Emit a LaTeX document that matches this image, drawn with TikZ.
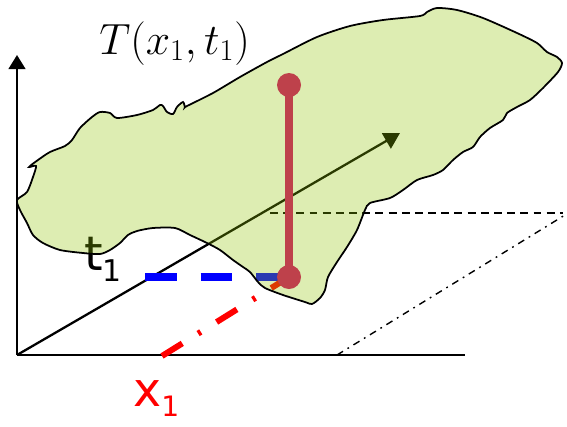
\documentclass[tikz,border=0pt]{standalone}
\usepackage{amsmath}
\usepackage{fontspec}
\newfontfamily\labelfont{DejaVu Sans}
\usetikzlibrary{arrows.meta}
\definecolor{blobgreen}{RGB}{142,195,0}
\definecolor{polered}{RGB}{190,65,75}
\definecolor{darkolive}{RGB}{45,60,0}

\begin{document}
\begin{tikzpicture}[x=0.02cm,y=-0.02cm,>=Triangle,
  axis/.style={line width=1.4pt,-{Triangle[length=8pt,width=9.5pt]}},
  blob/.style={draw=black,line width=1pt,fill=blobgreen,fill opacity=0.3},
  pole/.style={polered,line width=4.5pt},
  knob/.style={fill=polered,draw=none}]
\useasboundingbox (0,0) rectangle (567,426);

% axes
\coordinate (O) at (17,355);
\coordinate (ytop) at (17,55);
\coordinate (xend) at (465,355);
\coordinate (diag) at (400,133);
\draw[axis] (O) -- (ytop);
\draw[line width=1.4pt] (O) -- (xend);
\draw[line width=1.3pt,-{Triangle[length=9pt,width=10pt]}] (O) -- (diag);

% plane at t1
\coordinate (pl) at (270,213);
\coordinate (pr) at (563,213);
\coordinate (pb) at (337,355);
\draw[line width=0.9pt,dash pattern=on 4.5pt off 3pt] (pl) -- (pr);
\draw[line width=0.8pt,dash pattern=on 4pt off 3pt on 1pt off 3pt] (pb) -- (565,215);

% cut lines
\coordinate (top) at (289,85);
\coordinate (foot) at (289,277);
\coordinate (x1) at (162,356);
\draw[blue,line width=4pt,dash pattern=on 18pt off 13.6pt] (145,277) -- (foot);
\draw[red,line width=3.4pt,dash pattern=on 13.6pt off 10.6pt on 1.8pt off 10.6pt] (x1) -- (foot);

\node[anchor=base west,inner sep=0pt] (tlab) at (84,270)
  {\labelfont\fontsize{27}{30}\selectfont t\raisebox{-6.8pt}{\fontsize{17}{20}\selectfont 1}};
\node[anchor=base west,inner sep=0pt,red] (xlab) at (133,406)
  {\labelfont\fontsize{27}{30}\selectfont x\raisebox{-6pt}{\fontsize{16}{19}\selectfont 1}};
\node[anchor=base west,inner sep=0pt] (Tlab) at (99,54)
  {\fontsize{23.5}{28}\selectfont $T(x_1,t_1)$};

% surface
\draw[blob] plot[smooth cycle,tension=0.45] coordinates {
  (17,200) (27,192) (33,177) (36,166) (29,167) (38,160) (50,152) (65,146)
  (72,140) (80,128) (92,117) (100,112) (110,113) (117,118) (137,115)
  (153,110) (160,105) (163,106) (167,112) (173,114) (177,107) (183,102)
  (185,107) (187,106) (213,93) (240,77) (267,62) (283,54) (317,37)
  (350,26) (383,20) (420,16) (427,12) (437,8) (457,10) (483,18) (517,33)
  (537,43) (547,52) (557,57) (562,63) (558,72) (543,88) (530,100)
  (517,107) (507,113) (503,120) (490,128) (480,137) (473,147) (463,152)
  (453,160) (443,170) (433,175) (417,180) (403,190) (390,198) (370,203)
  (365,210) (357,230) (347,247) (337,262) (328,277) (325,290) (320,298)
  (312,304) (305,302) (283,295) (265,288) (258,282) (250,272) (243,267)
  (233,260) (220,250) (207,243) (190,235) (175,228) (153,228) (137,231)
  (128,235) (120,243) (110,250) (100,254) (83,253) (60,250) (43,243)
  (33,235) (27,223) (20,210)};

% value at (x1,t1)
\draw[pole] (foot) -- (top);
\fill[knob] (top) circle (12);
\fill[knob] (foot) circle (12);
\end{tikzpicture}
\end{document}
